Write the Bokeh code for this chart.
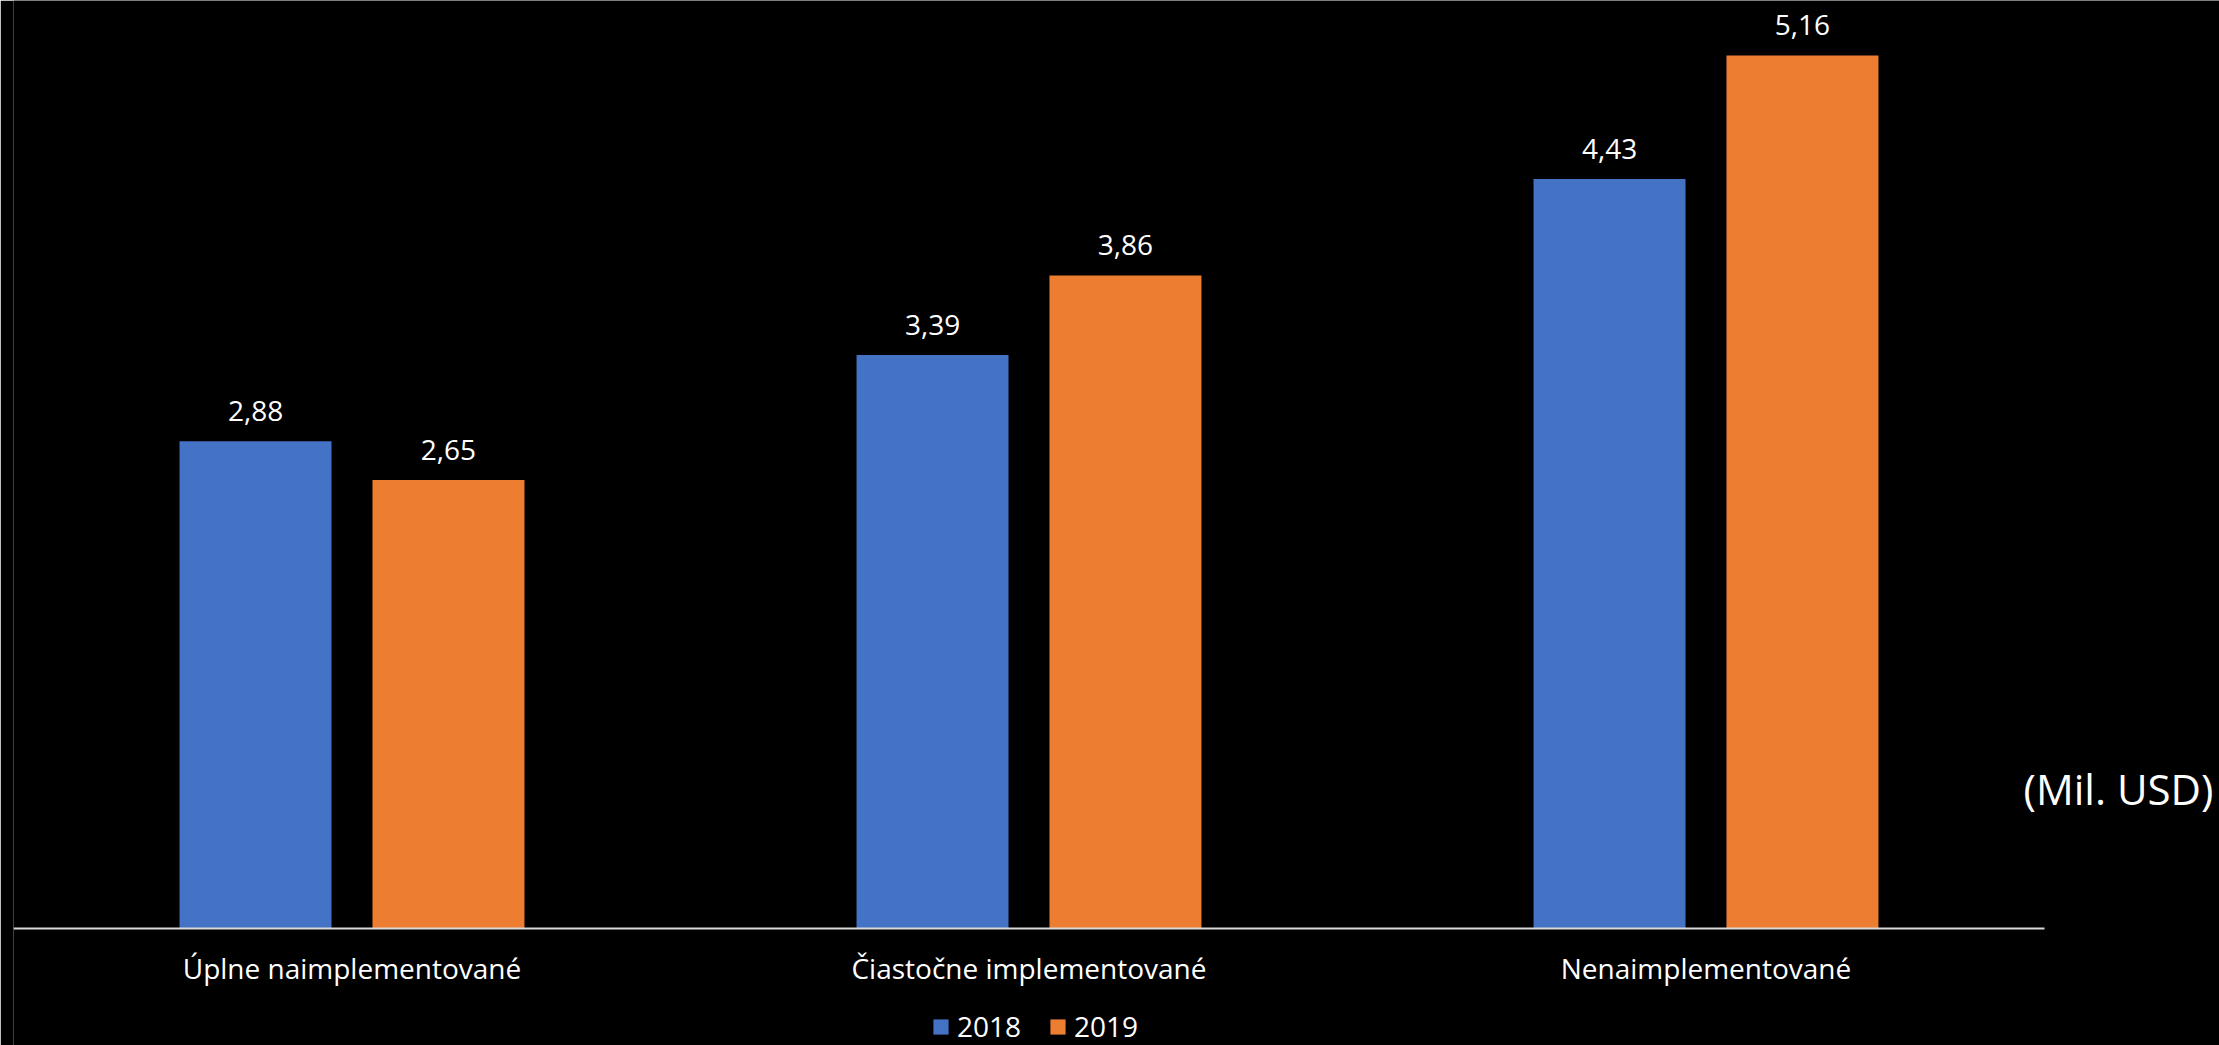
import numpy as np
from bokeh.plotting import figure
from bokeh.models import (ColumnDataSource, Legend, LegendItem, Label, Range1d,
                          FixedTicker)
from bokeh.core.properties import value
from bokeh.embed import file_html
from bokeh.resources import INLINE

# Data (Mil. USD)
categories = ["Úplne naimplementované", "Čiastočne implementované", "Nenaimplementované"]
years = ["2018", "2019"]
values_2018 = [2.88, 3.39, 4.43]
values_2019 = [2.65, 3.86, 5.16]

BLUE = "#4472C4"
ORANGE = "#ED7D31"
FONT = "Open Sans"


def fmt(v):
    return f"{v:.2f}".replace(".", ",")


# one unit of x per category, bars dodged around each category centre
centers = np.arange(len(categories)) + 0.5
bar_w = 0.2245
off = 0.1425

source = ColumnDataSource(data=dict(
    x18=centers - off,
    x19=centers + off,
    v2018=values_2018,
    v2019=values_2019,
    t2018=[fmt(v) for v in values_2018],
    t2019=[fmt(v) for v in values_2019],
))

W, H = 2219, 1045
LEFT = 13
BASE_Y = 928           # pixel row of the zero line
PX_PER_UNIT = 169.2    # vertical pixels per million USD
CAT_PX = 677           # horizontal pixels per category

p = figure(
    x_range=Range1d(0, (W - LEFT) / CAT_PX),
    y_range=Range1d(-(H - BASE_Y) / PX_PER_UNIT, BASE_Y / PX_PER_UNIT),
    width=W, height=H,
    output_backend="svg", toolbar_location=None,
    min_border_left=LEFT, min_border_right=0,
    min_border_top=0, min_border_bottom=0,
    background_fill_color="black", border_fill_color="black",
    outline_line_color=None,
    y_axis_location=None,
)
p.grid.visible = False

r18 = p.vbar(x="x18", top="v2018", width=bar_w, source=source,
             fill_color=BLUE, line_color=None)
r19 = p.vbar(x="x19", top="v2019", width=bar_w, source=source,
             fill_color=ORANGE, line_color=None)

# Value labels above the bars
for xcol, col, tcol in (("x18", "v2018", "t2018"), ("x19", "v2019", "t2019")):
    p.text(x=xcol, y=col, text=tcol, source=source,
           text_align="center", text_baseline="middle", y_offset=-30,
           text_color="white", text_font_size="28px", text_font=value(FONT))

# Category axis drawn on the zero line, spanning only the categories
ax = p.xaxis[0]
ax.fixed_location = 0
ax.bounds = (0, len(categories))
ax.ticker = FixedTicker(ticks=list(centers))
ax.major_label_overrides = {float(c): name for c, name in zip(centers, categories)}
ax.axis_line_color = "#D9D9D9"
ax.axis_line_width = 2
ax.major_tick_line_color = None
ax.minor_tick_line_color = None
ax.major_tick_out = 0
ax.major_tick_in = 0
ax.major_label_standoff = 20
ax.major_label_text_color = "white"
ax.major_label_text_font = FONT
ax.major_label_text_font_size = "28px"

# Unit note on the right
p.add_layout(Label(x=2118 - LEFT, y=H - 787.5, x_units="screen", y_units="screen",
                   text="(Mil. USD)", text_align="center", text_baseline="middle",
                   text_color="white", text_font=FONT, text_font_size="42px"))

legend = Legend(
    items=[LegendItem(label=years[0], renderers=[r18]),
           LegendItem(label=years[1], renderers=[r19])],
    orientation="horizontal", location=(931 - LEFT, 0),
    margin=0, padding=0, spacing=27, label_standoff=7,
    glyph_width=19, glyph_height=19,
    border_line_color=None, background_fill_alpha=0,
    label_text_color="white", label_text_font=FONT, label_text_font_size="28px",
)
p.add_layout(legend)

html = file_html(p, INLINE)
html = html.replace("<body>", '<body style="margin:0;background:black;">', 1)
open("out.html", "w").write(html)
